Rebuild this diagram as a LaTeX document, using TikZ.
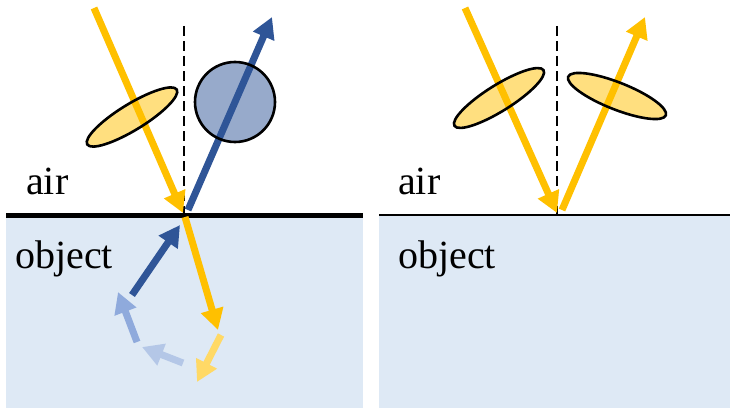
\documentclass[tikz,border=0pt]{standalone}
\usepackage{fontspec}
\setmainfont{Liberation Serif}
\usetikzlibrary{arrows.meta,shapes.geometric}
\definecolor{gold}{HTML}{FFC000}
\definecolor{goldfade}{HTML}{FFD966}
\definecolor{navy}{HTML}{2F5597}
\definecolor{bluemid}{HTML}{8FAADC}
\definecolor{bluelight}{HTML}{B4C7E7}
\definecolor{objbg}{HTML}{DEE9F5}
\tikzset{
  ray/.style={line width=7pt, -{Triangle[length=21pt,width=22pt]}},
  normal/.style={black, line width=2.6pt, dash pattern=on 10pt off 5pt},
  pol/.style={ellipse, draw=black, line width=2.6pt, fill=gold, fill opacity=0.5, inner sep=0pt},
  lbl/.style={anchor=base west, inner sep=0pt, font=\fontsize{40}{48}\selectfont}
}
\begin{document}
\begin{tikzpicture}[x=1pt,y=1pt]
\useasboundingbox (0,0) rectangle (730,408);
% ---------- left panel ----------
\fill[objbg] (6,0) rectangle (363,193);
\coordinate (LsA) at (6,193);
\coordinate (LsB) at (363,193);
\draw[line width=5pt] (LsA) -- (LsB);
\coordinate (LnT) at (184,382);
\coordinate (LnB) at (184,193);
\draw[normal] (LnT) -- (LnB);
\coordinate (Lin0) at (94,400);
\coordinate (Lin1) at (183,195);
\draw[ray, gold] (Lin0) -- (Lin1);
\coordinate (Lout0) at (188,198);
\coordinate (Lout1) at (272,391);
\draw[ray, navy] (Lout0) -- (Lout1);
\coordinate (Ltr0) at (185,191);
\coordinate (Ltr1) at (218,78);
\draw[ray, gold] (Ltr0) -- (Ltr1);
\coordinate (Lfy0) at (221,73);
\coordinate (Lfy1) at (197,26);
\draw[ray, goldfade] (Lfy0) -- (Lfy1);
\coordinate (Llb0) at (183,45);
\coordinate (Llb1) at (142,61);
\draw[ray, bluelight] (Llb0) -- (Llb1);
\coordinate (Lmb0) at (137,66);
\coordinate (Lmb1) at (118,116);
\draw[ray, bluemid] (Lmb0) -- (Lmb1);
\coordinate (Ldb0) at (132,113);
\coordinate (Ldb1) at (180,183);
\draw[ray, navy] (Ldb0) -- (Ldb1);
\node[pol, minimum width=105pt, minimum height=26pt, rotate=31.5] (Lell) at (132,291) {};
\node[circle, draw=black, line width=2.6pt, fill=navy, fill opacity=0.5, minimum size=80pt, inner sep=0pt] (Lcirc) at (235,306) {};
\node[lbl] (Lair) at (26,214) {air};
\node[lbl] (Lobj) at (15,140) {object};
% ---------- right panel ----------
\fill[objbg] (379,0) rectangle (730,193);
\coordinate (RsA) at (379,193);
\coordinate (RsB) at (730,193);
\draw[line width=2pt] (RsA) -- (RsB);
\coordinate (RnT) at (557,382);
\coordinate (RnB) at (557,193);
\draw[normal] (RnT) -- (RnB);
\coordinate (Rin0) at (465,400);
\coordinate (Rin1) at (557,195);
\draw[ray, gold] (Rin0) -- (Rin1);
\coordinate (Rout0) at (562,198);
\coordinate (Rout1) at (645,391);
\draw[ray, gold] (Rout0) -- (Rout1);
\node[pol, minimum width=105pt, minimum height=26pt, rotate=32] (Rell1) at (499,310) {};
\node[pol, minimum width=105pt, minimum height=27pt, rotate=-21.6] (Rell2) at (617,312) {};
\node[lbl] (Rair) at (398,214) {air};
\node[lbl] (Robj) at (398,140) {object};
\end{tikzpicture}
\end{document}
